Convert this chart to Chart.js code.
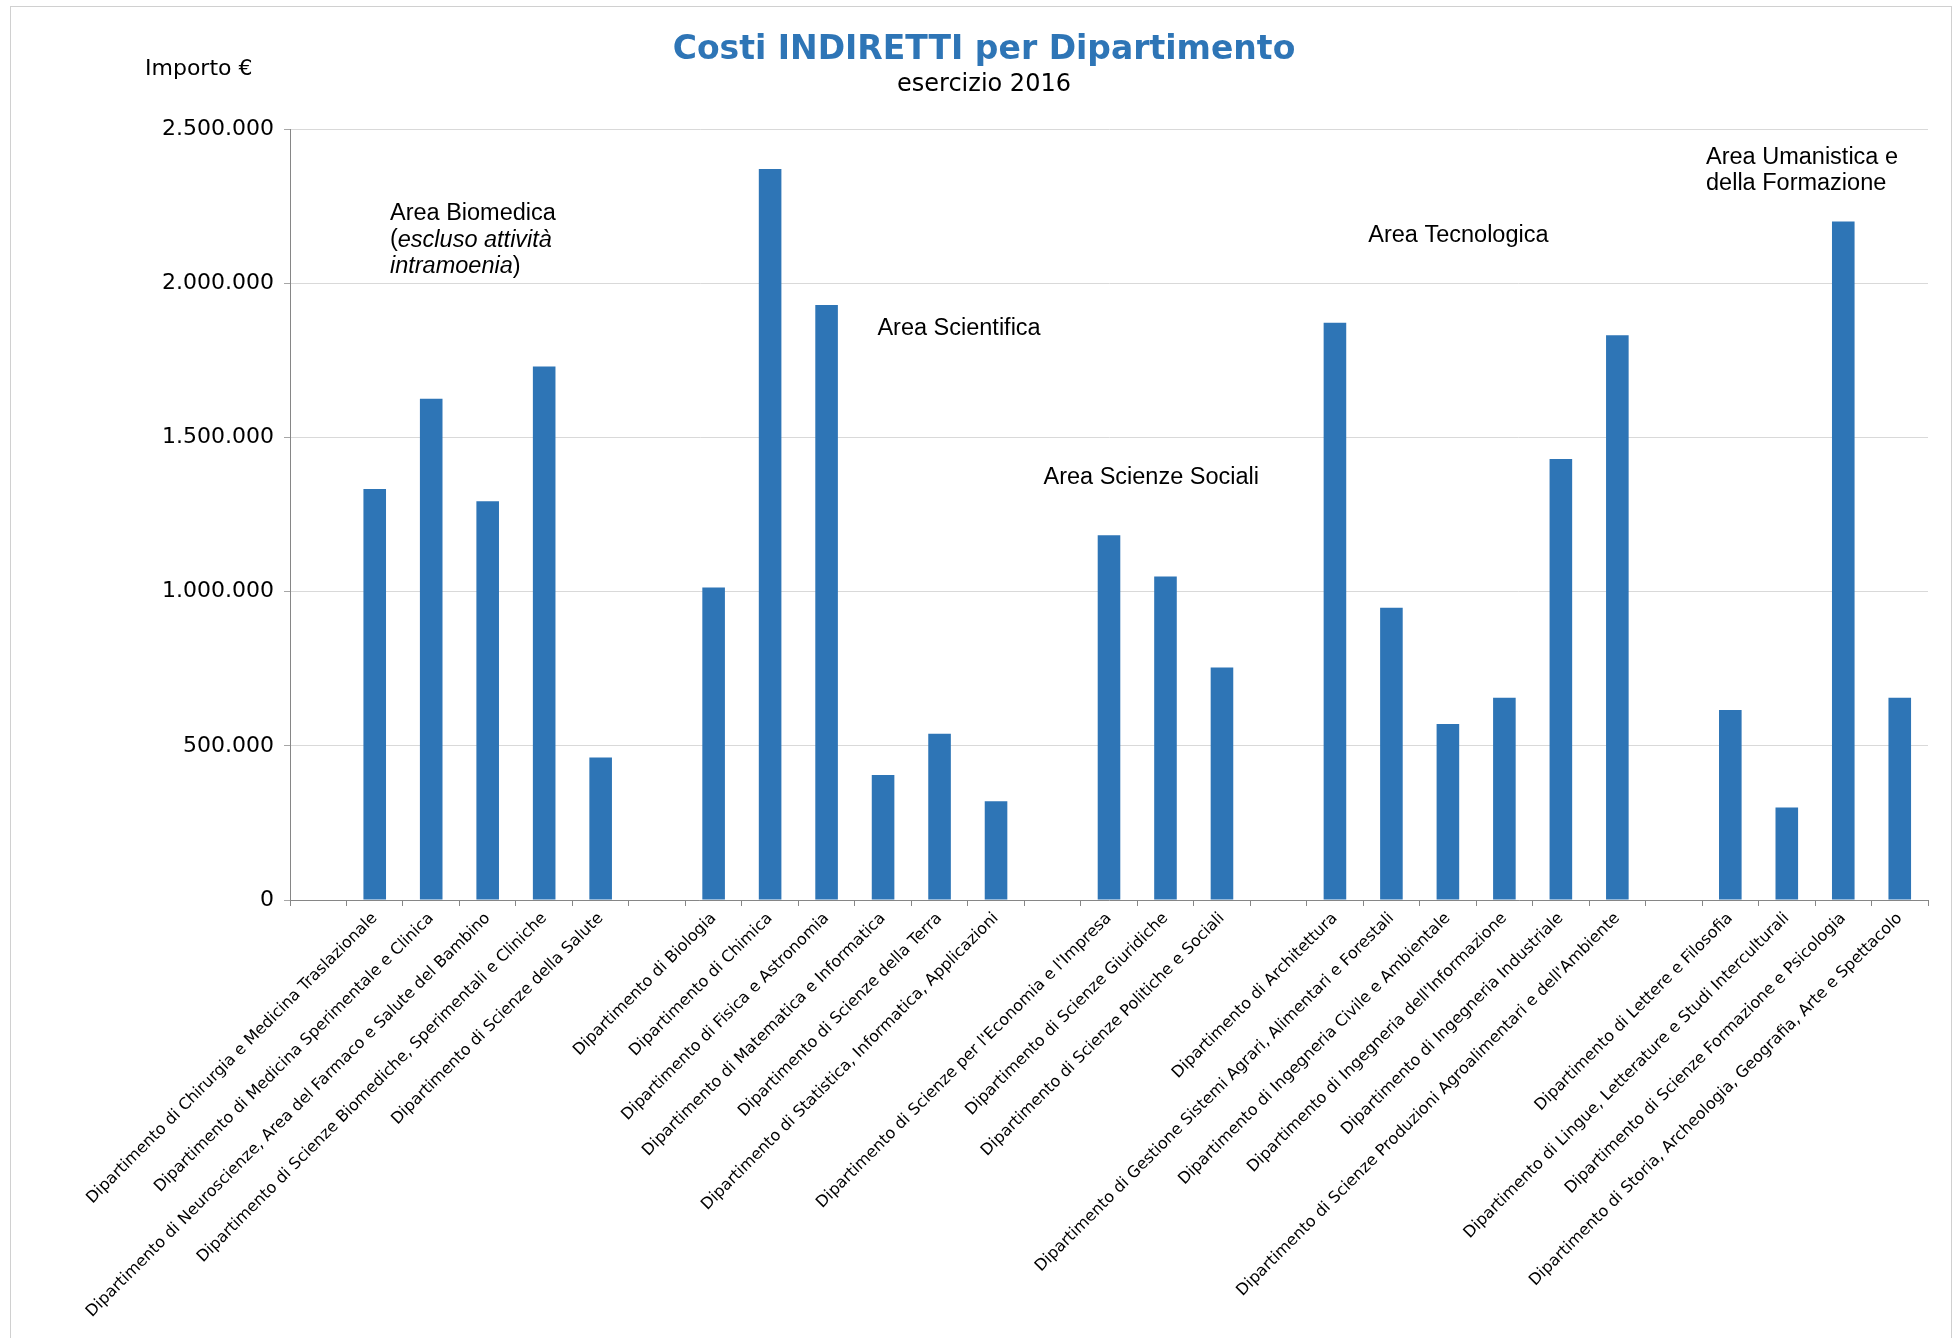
<!DOCTYPE html>
<html>
<head>
<meta charset="utf-8">
<title>Costi INDIRETTI per Dipartimento</title>
<script src="https://cdn.jsdelivr.net/npm/chart.js@4.4.1/dist/chart.umd.min.js"></script>
<style>
  html, body { margin: 0; padding: 0; background: #fff; }
  #wrap { width: 1959px; height: 1338px; }
</style>
</head>
<body>
<div id="wrap"><canvas id="chart" width="1959" height="1338"></canvas></div>
<script>
(function () {
  'use strict';

  // empty strings are the blank slots that separate the areas
  const departments = [
    '',
    'Dipartimento di Chirurgia e Medicina Traslazionale',
    'Dipartimento di Medicina Sperimentale e Clinica',
    'Dipartimento di Neuroscienze, Area del Farmaco e Salute del Bambino',
    'Dipartimento di Scienze Biomediche, Sperimentali e Cliniche',
    'Dipartimento di Scienze della Salute',
    '',
    'Dipartimento di Biologia',
    'Dipartimento di Chimica',
    'Dipartimento di Fisica e Astronomia',
    'Dipartimento di Matematica e Informatica',
    'Dipartimento di Scienze della Terra',
    'Dipartimento di Statistica, Informatica, Applicazioni',
    '',
    "Dipartimento di Scienze per l'Economia e l'Impresa",
    'Dipartimento di Scienze Giuridiche',
    'Dipartimento di Scienze Politiche e Sociali',
    '',
    'Dipartimento di Architettura',
    'Dipartimento di Gestione Sistemi Agrari, Alimentari e Forestali',
    'Dipartimento di Ingegneria Civile e Ambientale',
    "Dipartimento di Ingegneria dell'Informazione",
    'Dipartimento di Ingegneria Industriale',
    "Dipartimento di Scienze Produzioni Agroalimentari e dell'Ambiente",
    '',
    'Dipartimento di Lettere e Filosofia',
    'Dipartimento di Lingue, Letterature e Studi Interculturali',
    'Dipartimento di Scienze Formazione e Psicologia',
    'Dipartimento di Storia, Archeologia, Geografia, Arte e Spettacolo',
  ];

  const costs = [
    null, 1333000, 1625000, 1293000, 1730000, 462000,
    null, 1013000, 2370000, 1929000, 405000, 539000, 320000,
    null, 1183000, 1049000, 754000,
    null, 1872000, 948000, 571000, 656000, 1430000, 1831000,
    null, 616000, 300000, 2200000, 656000,
  ];

  const yMin = 0;
  const yMax = 2500000;
  const yStep = 500000;

  const titleText = 'Costi INDIRETTI per Dipartimento';
  const subtitleText = 'esercizio 2016';
  const yUnitText = 'Importo €';

  // area captions, each line split in upright / italic runs
  const areaBiomedica = [
    [['Area Biomedica', false]],
    [['(', false], ['escluso attività', true]],
    [['intramoenia', true], [')', false]],
  ];
  const areaScientifica = [[['Area Scientifica', false]]];
  const areaSociali = [[['Area Scienze Sociali', false]]];
  const areaTecnologica = [[['Area Tecnologica', false]]];
  const areaUmanistica = [
    [['Area Umanistica e', false]],
    [['della Formazione', false]],
  ];

  const BLUE = '#2E75B6';
  const AXIS = '#868686';

  function formatIt(v) {
    return String(v).replace(/\B(?=(\d{3})+(?!\d))/g, '.');
  }

  // anchor = left edge of text at (category slot, value)
  const captions = [
    { lines: areaBiomedica, slot: 1.27, value: 2226000 },
    { lines: areaScientifica, slot: 9.9, value: 1853000 },
    { lines: areaSociali, slot: 12.84, value: 1371000 },
    { lines: areaTecnologica, slot: 18.59, value: 2153000 },
    { lines: areaUmanistica, slot: 24.57, value: 2408000 },
  ];

  const framePlugin = {
    id: 'frame',
    beforeDraw(chart) {
      const ctx = chart.ctx;
      ctx.save();
      ctx.fillStyle = '#fff';
      ctx.fillRect(0, 0, chart.width, chart.height);
      ctx.strokeStyle = '#d0d0d0';
      ctx.lineWidth = 1;
      ctx.strokeRect(10.5, 6.5, 1941, 1345);
      ctx.restore();
    },
  };

  const textPlugin = {
    id: 'texts',
    afterDraw(chart) {
      const ctx = chart.ctx;
      const xs = chart.scales.x;
      const ys = chart.scales.y;
      ctx.save();
      ctx.textBaseline = 'middle';

      ctx.textAlign = 'center';
      ctx.fillStyle = BLUE;
      ctx.font = 'bold 33px "DejaVu Sans"';
      ctx.fillText(titleText, 984, 50);
      ctx.fillStyle = '#000';
      ctx.font = '24px "DejaVu Sans"';
      ctx.fillText(subtitleText, 984, 85);

      ctx.textAlign = 'left';
      ctx.font = '22px "DejaVu Sans"';
      ctx.fillText(yUnitText, 145, 69);

      captions.forEach((c) => {
        const x0 = xs.getPixelForValue(c.slot);
        let y = ys.getPixelForValue(c.value);
        c.lines.forEach((runs) => {
          let x = x0;
          runs.forEach(([txt, italic]) => {
            ctx.font = (italic ? 'italic ' : '') + '23.5px "Liberation Sans"';
            ctx.fillText(txt, x, y);
            x += ctx.measureText(txt).width;
          });
          y += 26.5;
        });
      });
      ctx.restore();
    },
  };

  new Chart(document.getElementById('chart'), {
    type: 'bar',
    data: {
      labels: departments,
      datasets: [
        {
          data: costs,
          backgroundColor: BLUE,
          borderWidth: 0,
          barPercentage: 0.4,
          categoryPercentage: 1.0,
        },
      ],
    },
    options: {
      responsive: false,
      animation: false,
      layout: { padding: { top: 129, right: 31, left: 10, bottom: 0 } },
      plugins: {
        legend: { display: false },
        tooltip: { enabled: false },
      },
      scales: {
        x: {
          grid: { offset: true, drawOnChartArea: false, drawTicks: true, tickLength: 6, color: AXIS },
          border: { color: AXIS },
          ticks: {
            autoSkip: false,
            minRotation: 45,
            maxRotation: 45,
            padding: 3,
            color: '#000',
            font: { family: 'DejaVu Sans', size: 16 },
          },
          afterFit: (s) => { s.height = 1338 - 900; },
        },
        y: {
          min: yMin,
          max: yMax,
          ticks: {
            stepSize: yStep,
            padding: 10,
            color: '#000',
            font: { family: 'DejaVu Sans', size: 22 },
            callback: (v) => formatIt(v),
          },
          grid: { color: '#d9d9d9', tickColor: '#a6a6a6', tickLength: 6 },
          border: { color: AXIS },
          afterFit: (s) => { s.width = 280; },
        },
      },
    },
    plugins: [framePlugin, textPlugin],
  });
})();
</script>
</body>
</html>
